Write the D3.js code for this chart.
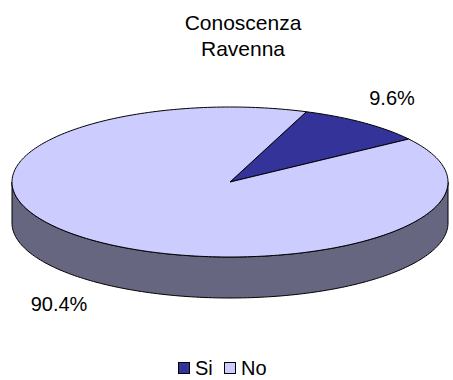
<!DOCTYPE html>
<html>
<head>
<meta charset="utf-8">
<script src="https://cdn.jsdelivr.net/npm/d3@7"></script>
<style>
  html, body { margin: 0; padding: 0; background: #ffffff; }
  svg { display: block; }
  text { font-family: Arial, "Liberation Sans", sans-serif; fill: #000; }
</style>
</head>
<body>
<svg id="chart" width="453" height="380"></svg>
<script>
const titleLines = ["Conoscenza", "Ravenna"];
const categories = ["Si", "No"];
const values = [9.6, 90.4];
const topColors = ["#333399", "#ccccff"];
const sideColors = ["#1f1f5c", "#666680"];

const W = 453, H = 380;
const cx = 230, cy = 182, rx = 218, ry = 75, depth = 41;
const startDeg = 20.5;

const svg = d3.select("#chart");

// Title
const title = svg.append("text").attr("text-anchor", "middle").attr("font-size", 21);
titleLines.forEach((t, i) => {
  title.append("tspan").attr("x", 243).attr("y", 30 + i * 26).text(t);
});

const pie = d3.pie().sort(null).value(d => d)
  .startAngle(startDeg * Math.PI / 180)
  .endAngle(startDeg * Math.PI / 180 + 2 * Math.PI);
const arcs = pie(values);

// map angle (clockwise from 12 o'clock) to ellipse point
const px = (a, r = 1) => cx + rx * r * Math.sin(a);
const py = (a, r = 1, dy = 0) => cy - ry * r * Math.cos(a) + dy;

function topPath(d) {
  const n = Math.max(2, Math.ceil((d.endAngle - d.startAngle) / 0.02));
  const pts = [[cx, cy]];
  for (let i = 0; i <= n; i++) {
    const a = d.startAngle + (d.endAngle - d.startAngle) * i / n;
    pts.push([px(a), py(a)]);
  }
  return d3.line()(pts) + "Z";
}

function sidePaths(d) {
  const out = [];
  for (let k = -1; k <= 1; k++) {
    const lo = Math.PI / 2 + k * 2 * Math.PI, hi = 3 * Math.PI / 2 + k * 2 * Math.PI;
    const s = Math.max(d.startAngle, lo), e = Math.min(d.endAngle, hi);
    if (e > s) {
      const n = Math.max(2, Math.ceil((e - s) / 0.02));
      const topPts = [], botPts = [];
      for (let i = 0; i <= n; i++) {
        const a = s + (e - s) * i / n;
        topPts.push([px(a), py(a)]);
        botPts.push([px(a), py(a, 1, depth)]);
      }
      out.push(d3.line()(topPts.concat(botPts.reverse())) + "Z");
    }
  }
  return out;
}

const g = svg.append("g");

arcs.forEach((d, i) => {
  sidePaths(d).forEach(p => {
    g.append("path").attr("d", p)
      .attr("fill", sideColors[i])
      .attr("stroke", "#000").attr("stroke-width", 1).attr("stroke-linejoin", "round");
  });
});

g.selectAll("path.top").data(arcs).enter().append("path")
  .attr("class", "top")
  .attr("d", topPath)
  .attr("fill", (d, i) => topColors[i])
  .attr("stroke", "#000").attr("stroke-width", 1).attr("stroke-linejoin", "round");

const fmt = v => d3.format(".1f")(v) + "%";
const labelPos = [[392, 105], [59, 311]];
arcs.forEach((d, i) => {
  svg.append("text")
    .attr("x", labelPos[i][0]).attr("y", labelPos[i][1])
    .attr("text-anchor", "middle").attr("font-size", 20)
    .text(fmt(values[i]));
});

const legend = svg.append("g");
const legX = [178, 224];
categories.forEach((c, i) => {
  legend.append("rect")
    .attr("x", legX[i] + 0.5).attr("y", 362.5).attr("width", 11).attr("height", 11)
    .attr("fill", topColors[i]).attr("stroke", "#000").attr("stroke-width", 1);
  legend.append("text")
    .attr("x", legX[i] + 17).attr("y", 375)
    .attr("font-size", 20)
    .text(c);
});
</script>
</body>
</html>
